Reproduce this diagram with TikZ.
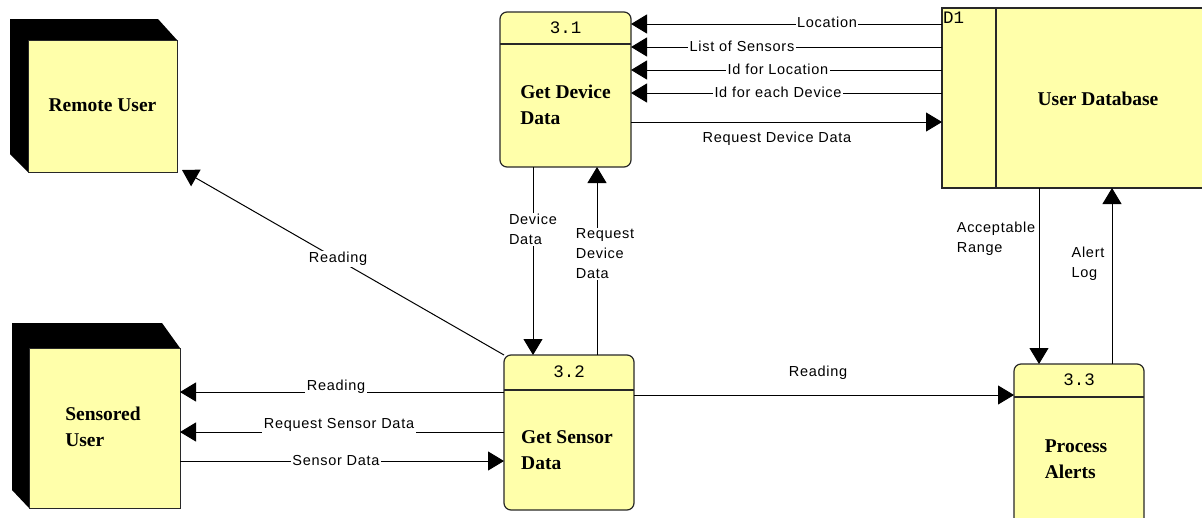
\documentclass[tikz,border=0pt]{standalone}
\usepackage{fontspec}
\setmainfont{Liberation Serif}
\newfontfamily\labfont[LetterSpace=5]{Liberation Sans}
\newfontfamily\numfont{Liberation Mono}
\usetikzlibrary{arrows.meta,calc}
\definecolor{boxfill}{RGB}{255,255,170}
\definecolor{edge}{RGB}{40,40,40}
\begin{document}
\begin{tikzpicture}[x=1pt,y=-1pt,
  every node/.style={inner sep=0pt, outer sep=0pt},
  entity/.style={draw=edge, fill=boxfill, line width=1pt},
  shadowbox/.style={fill=black},
  proc/.style={draw=edge, fill=boxfill, line width=1.2pt, rounded corners=7pt, minimum width=130pt},
  storebox/.style={draw=edge, fill=boxfill, line width=1.2pt},
  divline/.style={draw=edge, line width=1.2pt},
  title/.style={font=\fontsize{19.5}{26}\selectfont\bfseries, align=left},
  num/.style={font=\numfont\fontsize{17.5}{20}\selectfont},
  flow/.style={draw, line width=1pt, -{Triangle[length=16pt,width=19pt]}},
  lab/.style={font=\labfont\fontsize{14.5}{20}\selectfont, align=left},
  onlab/.style={lab, fill=white, inner xsep=1.5pt, inner ysep=1pt},
]
\useasboundingbox (0,0) rectangle (1202,517);
\fill[white] (0,0) rectangle (1202,517);
\clip (0,0) rectangle (1202,517);

% external entities with their dark extrusion
\fill[shadowbox] (28,172) -- (10,154) -- (10,19) -- (158,19) -- (177,40) -- (177,172) -- cycle;
\node[entity, minimum width=149pt, minimum height=132pt] (ru) at (102.5,106) {};
\node[title] (rut) at (102.5,105) {Remote User};

\fill[shadowbox] (29,508) -- (12,490) -- (12,323) -- (162,323) -- (180,348) -- (180,508) -- cycle;
\node[entity, minimum width=151pt, minimum height=160pt] (su) at (104.5,428) {};
\node[title] (sut) at (103,427) {Sensored\\User};

% processes
\node[proc, minimum width=131pt, minimum height=155pt] (p31) at (565.5,89.5) {};
\draw[divline] (p31.west |- 0,44) -- (p31.east |- 0,44);
\node[num] (n31) at (565.5,28) {3.1};
\node[title] (t31) at (565.5,105) {Get Device\\Data};

\node[proc, minimum height=155pt] (p32) at (569,432.5) {};
\draw[divline] (p32.west |- 0,390) -- (p32.east |- 0,390);
\node[num] (n32) at (569,372) {3.2};
\node[title] (t32) at (567,450.5) {Get Sensor\\Data};

\node[proc, minimum height=196pt] (p33) at (1079,462) {};
\draw[divline] (p33.west |- 0,397) -- (p33.east |- 0,397);
\node[num] (n33) at (1079,380) {3.3};
\node[title] (t33) at (1076,459) {Process\\Alerts};

% data store
\node[storebox, minimum width=300pt, minimum height=180pt] (st) at (1092,98) {};
\draw[divline] (996,0 |- st.north) -- (996,0 |- st.south);
\node[num, anchor=west] (d1) at (943,18) {D1};
\node[title] (stt) at (1098,99) {User Database};

% flows between the store and 3.1
\draw[flow] (st.west |- 0,24) -- (p31.east |- 0,24);
\draw[flow] (st.west |- 0,47) -- (p31.east |- 0,47);
\draw[flow] (st.west |- 0,70) -- (p31.east |- 0,70);
\draw[flow] (st.west |- 0,93) -- (p31.east |- 0,93);
\draw[flow] (p31.east |- 0,122) -- (st.west |- 0,122);
\node[onlab] (l1) at (827,22) {Location};
\node[onlab] (l2) at (742,46) {List of Sensors};
\node[onlab] (l3) at (778,69) {Id for Location};
\node[onlab] (l4) at (778,92) {Id for each Device};
\node[lab] (l5) at (777,139) {Request Device Data};

% flows between 3.1 and 3.2
\draw[flow] (533,0 |- p31.south) -- (533,0 |- p32.north);
\draw[flow] (597,0 |- p32.north) -- (597,0 |- p31.south);
\node[onlab] (l6) at (533,229.5) {Device\\Data};
\node[onlab] (l7) at (605,254) {Request\\Device\\Data};

% flows out of and into 3.2
\draw[flow] (p32.north west) -- ($(ru.south east)+(5,-2)$);
\node[onlab] (l8) at (338,259) {Reading};
\draw[flow] (p32.west |- 0,392) -- (su.east |- 0,392);
\draw[flow] (p32.west |- 0,432) -- (su.east |- 0,432);
\draw[flow] (su.east |- 0,461) -- (p32.west |- 0,461);
\node[onlab] (l9) at (336,387) {Reading};
\node[onlab] (l10) at (339,425) {Request Sensor Data};
\node[onlab] (l11) at (336,461) {Sensor Data};

\draw[flow] (p32.east |- 0,395) -- (p33.west |- 0,395);
\node[lab] (l12) at (818,373) {Reading};

% flows between the store and 3.3
\draw[flow] (1039,0 |- st.south) -- (1039,0 |- p33.north);
\draw[flow] (1112,0 |- p33.north) -- (1112,0 |- st.south);
\node[lab] (l13) at (996,239) {Acceptable\\Range};
\node[lab] (l14) at (1088,264) {Alert\\Log};
\end{tikzpicture}
\end{document}
